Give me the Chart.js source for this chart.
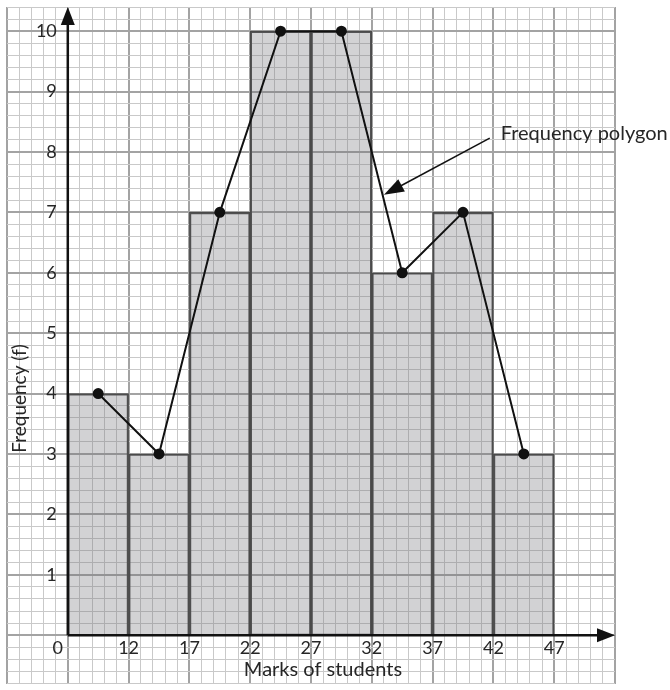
<!DOCTYPE html>
<html>
<head>
<meta charset="utf-8">
<script src="https://cdn.jsdelivr.net/npm/chart.js@4.4.1/dist/chart.umd.min.js"></script>
<style>
  html, body { margin: 0; padding: 0; background: #fff; }
  #wrap { width: 670px; height: 690px; }
</style>
</head>
<body>
<div id="wrap"><canvas id="chartHisto" width="670" height="690"></canvas></div>
<script>
// class intervals (lower bounds) and frequencies
const lowerBounds = [7, 12, 17, 22, 27, 32, 37, 42];
const classWidth = 5;
const frequencies = [4, 3, 7, 10, 10, 6, 7, 3];

// x tick labels (the first one is the broken-axis "0")
const xTickPos = [7, 12, 17, 22, 27, 32, 37, 42, 47];
const xTickLabels = ['0', '12', '17', '22', '27', '32', '37', '42', '47'];
const yTickValues = [1, 2, 3, 4, 5, 6, 7, 8, 9, 10];

const xTitle = 'Marks of students';
const yTitle = 'Frequency (f)';
const noteText = 'Frequency polygon';
const noteFrom = { x: 41.7, y: 8.23 };
const noteTo = { x: 33.0, y: 7.29 };
const noteLabel = { x: 42.6, y: 8.3 };

const midpoints = lowerBounds.map(b => b + classWidth / 2);
const barData = midpoints.map((m, i) => ({ x: m, y: frequencies[i] }));
const polyData = midpoints.map((m, i) => ({ x: m, y: frequencies[i] }));

const INK = '#262626';
const MAJOR = '#a3a3a3';
const MINOR = '#c9c9c9';

function isMajorY(c) { return c.tick && Math.abs(c.tick.value - Math.round(c.tick.value)) < 1e-6; }
function isMajorX(c) { return c.tick && Math.abs((c.tick.value - 2) % 5) < 1e-6; }

function arrowHead(ctx, x, y, angle, len, half) {
  ctx.save();
  ctx.translate(x, y);
  ctx.rotate(angle);
  ctx.beginPath();
  ctx.moveTo(0, 0);
  ctx.lineTo(-len, -half);
  ctx.lineTo(-len, half);
  ctx.closePath();
  ctx.fill();
  ctx.restore();
}

const decorations = {
  id: 'decorations',
  afterDraw(chart) {
    const ctx = chart.ctx;
    const xs = chart.scales.x, ys = chart.scales.y;
    const x0 = xs.getPixelForValue(xTickPos[0]);
    const y0 = ys.getPixelForValue(0);
    const top = chart.chartArea.top;
    const right = chart.chartArea.right;

    ctx.save();
    ctx.strokeStyle = '#111';
    ctx.fillStyle = '#111';
    ctx.lineWidth = 2.5;
    ctx.beginPath();
    ctx.moveTo(x0, y0);
    ctx.lineTo(x0, top + 14);
    ctx.moveTo(x0, y0);
    ctx.lineTo(right - 14, y0);
    ctx.stroke();
    arrowHead(ctx, x0, top, -Math.PI / 2, 18, 7);
    arrowHead(ctx, right, y0, 0, 18, 7);

    ctx.fillStyle = INK;
    ctx.font = '18px Lato';
    ctx.textBaseline = 'middle';
    ctx.textAlign = 'center';
    xTickPos.forEach((v, i) => {
      let px = xs.getPixelForValue(v);
      if (i === 0) px -= 10;
      ctx.fillText(xTickLabels[i], px, y0 + 13);
    });
    ctx.textAlign = 'right';
    yTickValues.forEach(v => {
      ctx.fillText(String(v), x0 - 11, ys.getPixelForValue(v));
    });

    ctx.textAlign = 'center';
    ctx.font = '20px Lato';
    ctx.fillText(xTitle, (x0 + xs.getPixelForValue(47)) / 2 + 12, y0 + 34);
    ctx.save();
    ctx.font = '19px Lato';
    ctx.translate(20, ys.getPixelForValue(3.92));
    ctx.rotate(-Math.PI / 2);
    ctx.fillText(yTitle, 0, 0);
    ctx.restore();

    // annotation
    ctx.font = '20px Lato';
    ctx.textAlign = 'left';
    ctx.fillText(noteText, xs.getPixelForValue(noteLabel.x), ys.getPixelForValue(noteLabel.y));
    const ax = xs.getPixelForValue(noteFrom.x), ay = ys.getPixelForValue(noteFrom.y);
    const bx = xs.getPixelForValue(noteTo.x), by = ys.getPixelForValue(noteTo.y);
    const ang = Math.atan2(by - ay, bx - ax);
    ctx.strokeStyle = '#111';
    ctx.fillStyle = '#111';
    ctx.lineWidth = 1.5;
    ctx.beginPath();
    ctx.moveTo(ax, ay);
    ctx.lineTo(bx - 14 * Math.cos(ang), by - 14 * Math.sin(ang));
    ctx.stroke();
    arrowHead(ctx, bx, by, ang, 20, 7);
    ctx.restore();
  }
};

const ctxHisto = document.getElementById('chartHisto').getContext('2d');
new Chart(ctxHisto, {
  data: {
    datasets: [
      {
        type: 'line',
        data: polyData,
        borderColor: '#111',
        borderWidth: 2,
        pointRadius: 4.5,
        pointBackgroundColor: '#111',
        pointBorderColor: '#111',
        tension: 0,
        order: 0
      },
      {
        type: 'bar',
        data: barData,
        backgroundColor: 'rgba(115,115,122,0.32)',
        borderColor: '#4a4a4a',
        borderWidth: 1.5,
        barPercentage: 1,
        categoryPercentage: 1,
        order: 1
      }
    ]
  },
  options: {
    responsive: false,
    devicePixelRatio: 1,
    animation: false,
    layout: { padding: { left: 7, top: 7, right: 55, bottom: 0 } },
    plugins: { legend: { display: false }, tooltip: { enabled: false } },
    scales: {
      // major x grid (also sets the bar width: one class = one step)
      x: {
        type: 'linear',
        min: 2,
        max: 52,
        offset: false,
        border: { display: false },
        ticks: { display: false, stepSize: classWidth },
        grid: { offset: false, drawTicks: false, color: MAJOR, lineWidth: 2 }
      },
      // minor x grid
      xMinor: {
        type: 'linear',
        position: 'bottom',
        min: 2,
        max: 52,
        offset: false,
        border: { display: false },
        ticks: { display: false, stepSize: 1 },
        grid: {
          offset: false,
          drawTicks: false,
          color: c => (isMajorX(c) ? 'rgba(0,0,0,0)' : MINOR),
          lineWidth: 1
        }
      },
      y: {
        type: 'linear',
        min: -0.8,
        max: 10.4,
        offset: false,
        border: { display: false },
        ticks: { display: false, stepSize: 0.2 },
        grid: {
          offset: false,
          drawTicks: false,
          color: c => (isMajorY(c) ? MAJOR : MINOR),
          lineWidth: c => (isMajorY(c) ? 2 : 1)
        }
      }
    }
  },
  plugins: [decorations]
});
</script>
</body>
</html>
